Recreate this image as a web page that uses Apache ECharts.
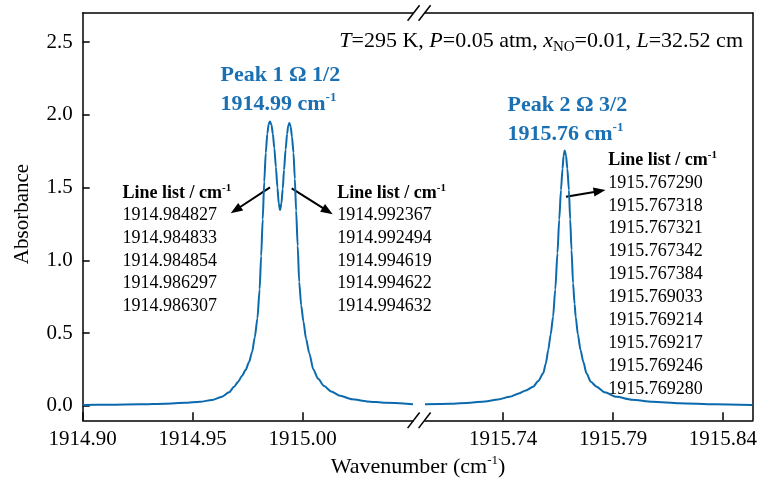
<!DOCTYPE html>
<html>
<head>
<meta charset="utf-8">
<script src="https://cdn.jsdelivr.net/npm/echarts@6/dist/echarts.min.js"></script>
<style>
  html, body { margin: 0; padding: 0; background: #fff; }
  #chart { width: 760px; height: 483px; }
</style>
</head>
<body>
<div id="chart"></div>
<script>
// NO absorbance spectrum around the Ω 1/2 and Ω 3/2 features (broken wavenumber axis)
const peak1Wavenumber = [
  1914.9000, 1914.9124, 1914.9260, 1914.9374, 1914.9465, 1914.9533, 1914.9588, 1914.9633,
  1914.9665, 1914.9688, 1914.9706, 1914.9724, 1914.9740, 1914.9756, 1914.9770, 1914.9782,
  1914.9794, 1914.9804, 1914.9811, 1914.9818, 1914.9825, 1914.9832, 1914.9839, 1914.9845,
  1914.9851, 1914.9858, 1914.9864, 1914.9871, 1914.9878, 1914.9885, 1914.9891, 1914.9897,
  1914.9903, 1914.9909, 1914.9915, 1914.9922, 1914.9929, 1914.9934, 1914.9939, 1914.9945,
  1914.9951, 1914.9958, 1914.9964, 1914.9970, 1914.9977, 1914.9984, 1914.9993, 1915.0003,
  1915.0015, 1915.0030, 1915.0048, 1915.0070, 1915.0097, 1915.0129, 1915.0170, 1915.0224,
  1915.0292, 1915.0374, 1915.0501
];
const peak1Absorbance = [
  0.005, 0.007, 0.010, 0.014, 0.020, 0.027, 0.040, 0.062,
  0.092, 0.130, 0.165, 0.205, 0.245, 0.300, 0.370, 0.470,
  0.600, 0.800, 1.030, 1.280, 1.540, 1.740, 1.870, 1.935,
  1.954, 1.930, 1.870, 1.770, 1.640, 1.500, 1.390, 1.346,
  1.390, 1.490, 1.620, 1.760, 1.870, 1.925, 1.943, 1.920,
  1.850, 1.740, 1.560, 1.340, 1.100, 0.850, 0.690, 0.580,
  0.460, 0.360, 0.250, 0.185, 0.135, 0.098, 0.068, 0.045,
  0.030, 0.020, 0.010
];
const peak2Wavenumber = [
  1915.7044, 1915.7158, 1915.7249, 1915.7317, 1915.7376, 1915.7430, 1915.7471, 1915.7503,
  1915.7536, 1915.7560, 1915.7582, 1915.7594, 1915.7605, 1915.7616, 1915.7627, 1915.7637,
  1915.7647, 1915.7655, 1915.7663, 1915.7670, 1915.7675, 1915.7680, 1915.7686, 1915.7692,
  1915.7699, 1915.7705, 1915.7711, 1915.7718, 1915.7725, 1915.7730, 1915.7740, 1915.7752,
  1915.7765, 1915.7779, 1915.7799, 1915.7825, 1915.7862, 1915.7915, 1915.7985, 1915.8080,
  1915.8203, 1915.8362, 1915.8535
];
const peak2Absorbance = [
  0.010, 0.014, 0.021, 0.030, 0.043, 0.062, 0.085, 0.105,
  0.131, 0.170, 0.223, 0.290, 0.383, 0.490, 0.612, 0.800,
  1.050, 1.280, 1.484, 1.630, 1.720, 1.754, 1.720, 1.630,
  1.484, 1.280, 1.071, 0.842, 0.700, 0.612, 0.490, 0.383,
  0.300, 0.223, 0.165, 0.131, 0.092, 0.062, 0.042, 0.028,
  0.018, 0.010, 0.005
];

const leftTicks = [1914.90, 1914.95, 1915.00];
const rightTicks = [1915.74, 1915.79, 1915.84];
const yTicks = [0, 0.5, 1.0, 1.5, 2.0, 2.5];

const lineListPeak1a = ['1914.984827', '1914.984833', '1914.984854', '1914.986297', '1914.986307'];
const lineListPeak1b = ['1914.992367', '1914.992494', '1914.994619', '1914.994622', '1914.994632'];
const lineListPeak2 = ['1915.767290', '1915.767318', '1915.767321', '1915.767342', '1915.767384',
                       '1915.769033', '1915.769214', '1915.769217', '1915.769246', '1915.769280'];

const conditionsText = '{i|T}=295 K, {i|P}=0.05 atm, {i|x}{sub|NO}=0.01, {i|L}=32.52 cm';
const peak1Title = ['Peak 1 Ω 1/2', '1914.99 cm{sup|-1}'];
const peak2Title = ['Peak 2 Ω 3/2', '1915.76 cm{sup|-1}'];
const listHeader = 'Line list / cm{sup|-1}';

// layout
const SERIF = '"Liberation Serif", "Times New Roman", serif';
const LINE_BLUE = '#0b6aad';
const TEXT_BLUE = '#1a70b3';
const plotTop = 13, plotBottom = 420.3;
const leftPane = { x0: 82.7, x1: 413.2 };
const rightPane = { x0: 425, x1: 753.3 };
const yMin = -0.1, yMax = 2.7;
const leftRange = [1914.90, 1915.0502];
const rightRange = [1915.7044, 1915.8536];

const chart = echarts.init(document.getElementById('chart'), null, { renderer: 'canvas' });

function toPairs(xs, ys) { return xs.map((x, i) => [x, ys[i]]); }

const axisLineStyle = { color: '#000', width: 1.5 };

function bottomAxis(gridIndex, range, ticks) {
  return {
    type: 'value', gridIndex, position: 'bottom', min: range[0], max: range[1],
    axisLine: { show: true, onZero: false, lineStyle: axisLineStyle },
    axisTick: { show: true, inside: true, length: 8, customValues: ticks, lineStyle: { color: '#000', width: 1.5 } },
    axisLabel: { show: true, customValues: ticks, margin: 9, color: '#000', fontFamily: SERIF, fontSize: 21,
                 formatter: v => v.toFixed(2) },
    splitLine: { show: false }
  };
}
function topAxis(gridIndex, range) {
  return {
    type: 'value', gridIndex, position: 'top', min: range[0], max: range[1],
    axisLine: { show: true, onZero: false, lineStyle: axisLineStyle },
    axisTick: { show: false }, axisLabel: { show: false }, splitLine: { show: false }
  };
}

function textEl(x, y, text, opts) {
  return {
    type: 'text', x, y, silent: true,
    style: Object.assign({
      text, fontFamily: SERIF, fontSize: 18, fill: '#000',
      textAlign: 'left', textVerticalAlign: 'middle'
    }, opts || {})
  };
}

function arrowEl(x1, y1, x2, y2) {
  const dx = x2 - x1, dy = y2 - y1;
  const len = Math.sqrt(dx * dx + dy * dy);
  const ux = dx / len, uy = dy / len;
  const nx = -uy, ny = ux;
  const headLen = 12, headHalf = 4.5;
  const bx = x2 - ux * headLen, by = y2 - uy * headLen;
  return {
    type: 'group', silent: true,
    children: [
      { type: 'line', shape: { x1, y1, x2: bx + ux * 2, y2: by + uy * 2 }, style: { stroke: '#000', lineWidth: 2 } },
      { type: 'polygon', shape: { points: [[x2, y2], [bx + nx * headHalf, by + ny * headHalf], [bx - nx * headHalf, by - ny * headHalf]] },
        style: { fill: '#000' } }
    ]
  };
}

function breakMark(cx, cy) {
  return { type: 'line', silent: true, shape: { x1: cx - 6, y1: cy + 7.8, x2: cx + 6, y2: cy - 7.8 },
           style: { stroke: '#000', lineWidth: 1.5 } };
}

function listEls(x, yHeader, step, values) {
  const els = [textEl(x, yHeader, listHeader, { fontWeight: 'bold', rich: {
    sup: { fontSize: 11, fontWeight: 'bold', fontFamily: SERIF, padding: [0, 0, 10, 0] } } })];
  values.forEach((v, i) => els.push(textEl(x, yHeader + step * (i + 1), v)));
  return els;
}

const peakTitleStyle = { fontWeight: 'bold', fontSize: 22, fill: TEXT_BLUE,
  rich: { sup: { fontSize: 13, fontWeight: 'bold', fontFamily: SERIF, fill: TEXT_BLUE, padding: [0, 0, 12, 0] } } };

const graphics = [
  // axis-break marks on the top and bottom frame lines
  breakMark(413.6, plotTop), breakMark(424.6, plotTop),
  breakMark(413.6, plotBottom), breakMark(424.6, plotBottom),
  // axis titles
  {
    type: 'text', x: 22, y: 214, rotation: Math.PI / 2, silent: true,
    style: { text: 'Absorbance', fontFamily: SERIF, fontSize: 21, fill: '#000', textAlign: 'center', textVerticalAlign: 'middle' }
  },
  textEl(418, 467, 'Wavenumber (cm{sup|-1})', { fontSize: 22, textAlign: 'center',
    rich: { sup: { fontSize: 13, fontFamily: SERIF, padding: [0, 0, 12, 0] } } }),
  // measurement conditions
  textEl(743, 41, conditionsText, { fontSize: 22, textAlign: 'right',
    rich: { i: { fontStyle: 'italic', fontSize: 22, fontFamily: SERIF },
            sub: { fontSize: 15, fontFamily: SERIF, padding: [12, 0, 0, 0] } } }),
  // peak labels
  textEl(220.5, 75, peak1Title[0], peakTitleStyle),
  textEl(220.5, 104, peak1Title[1], peakTitleStyle),
  textEl(507.5, 105, peak2Title[0], peakTitleStyle),
  textEl(507.5, 134, peak2Title[1], peakTitleStyle),
  // line lists
  ...listEls(122.5, 193, 22.6, lineListPeak1a),
  ...listEls(337.3, 193, 22.6, lineListPeak1b),
  ...listEls(608.3, 160, 22.9, lineListPeak2),
  // arrows from the peaks to their line lists
  arrowEl(270, 187.3, 230.7, 213.3),
  arrowEl(291.7, 188.3, 332.7, 214.3),
  arrowEl(566, 196.7, 605.5, 190)
];

const option = {
  animation: false,
  backgroundColor: '#fff',
  grid: [
    { left: leftPane.x0, top: plotTop, width: leftPane.x1 - leftPane.x0, height: plotBottom - plotTop, containLabel: false },
    { left: rightPane.x0, top: plotTop, width: rightPane.x1 - rightPane.x0, height: plotBottom - plotTop, containLabel: false }
  ],
  xAxis: [
    bottomAxis(0, leftRange, leftTicks),
    topAxis(0, leftRange),
    bottomAxis(1, rightRange, rightTicks),
    topAxis(1, rightRange)
  ],
  yAxis: [
    {
      type: 'value', gridIndex: 0, position: 'left', min: yMin, max: yMax,
      axisLine: { show: true, onZero: false, lineStyle: axisLineStyle },
      axisTick: { show: true, inside: true, length: 7, customValues: yTicks, lineStyle: { color: '#000', width: 1.5 } },
      axisLabel: { show: true, customValues: yTicks, margin: 10, color: '#000', fontFamily: SERIF, fontSize: 21,
                   formatter: v => v.toFixed(1) },
      splitLine: { show: false }
    },
    {
      type: 'value', gridIndex: 1, position: 'right', min: yMin, max: yMax,
      axisLine: { show: true, onZero: false, lineStyle: axisLineStyle },
      axisTick: { show: false }, axisLabel: { show: false }, splitLine: { show: false }
    }
  ],
  series: [
    {
      name: 'Peak 1', type: 'line', xAxisIndex: 0, yAxisIndex: 0,
      data: toPairs(peak1Wavenumber, peak1Absorbance),
      showSymbol: false, smooth: 0.25, smoothMonotone: 'x',
      lineStyle: { color: LINE_BLUE, width: 2 }, clip: true
    },
    {
      name: 'Peak 2', type: 'line', xAxisIndex: 2, yAxisIndex: 1,
      data: toPairs(peak2Wavenumber, peak2Absorbance),
      showSymbol: false, smooth: 0.25, smoothMonotone: 'x',
      lineStyle: { color: LINE_BLUE, width: 2 }, clip: true
    }
  ],
  graphic: graphics
};

chart.setOption(option);
</script>
</body>
</html>
